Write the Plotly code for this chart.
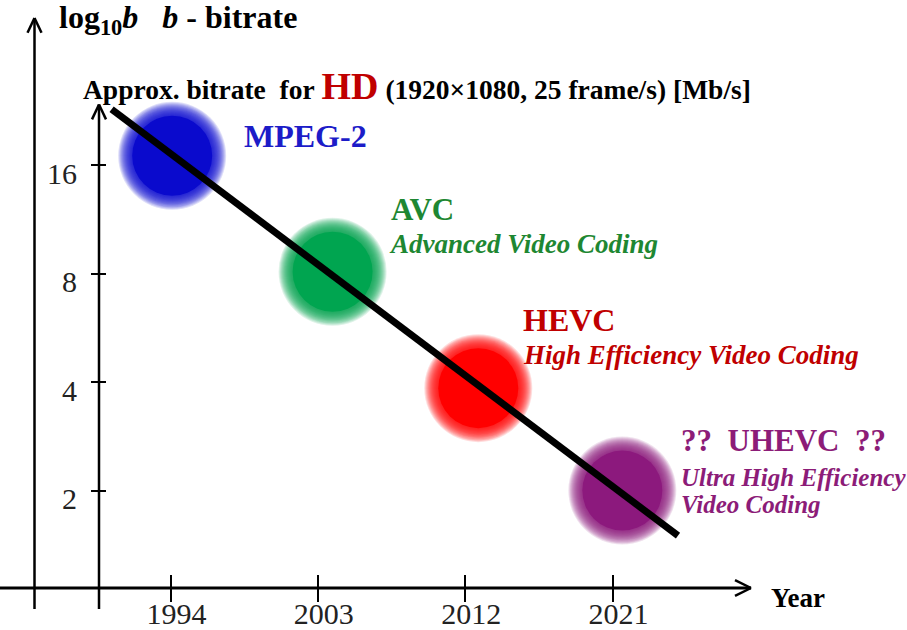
import plotly.graph_objects as go

# ---------------- data ----------------
codecs = ["MPEG-2", "AVC", "HEVC", "UHEVC"]
codec_years = [1994.1, 2003.9, 2012.8, 2021.6]
codec_bitrate = [17.0, 8.1, 3.85, 2.0]
blob_colors = ["rgb(10,10,205)", "rgb(0,165,80)", "rgb(255,0,0)", "rgb(140,25,125)"]

trend_years = [1990.4, 2025.0]
trend_bitrate = [22.9, 1.5]

year_ticks = [1994, 2003, 2012, 2021]
year_labels = ["1994", "2003", "2012", "2021"]
bitrate_ticks = [2, 4, 8, 16]
bitrate_labels = ["2", "4", "8", "16"]

# ---------------- layout geometry ----------------
W, H = 907, 630
ML, MB = 99, 39
PW, PH = W - ML, H - MB
x_range = [1989.63, 2038.99]
y_range_log = [0.0307, 1.6629]

SERIF = "Liberation Serif, Times New Roman, serif"


def px(x):
    return (x - ML) / PW


def py(y):
    return (PH - y) / PH


fig = go.Figure()

# soft blobs: many faint layers (large -> small) then a solid core
for k in range(14, 0, -1):
    fig.add_trace(go.Scatter(
        x=codec_years, y=codec_bitrate, mode="markers",
        marker=dict(size=80 + 2 * k, color=blob_colors, opacity=0.13, line=dict(width=0)),
        hoverinfo="skip", showlegend=False))
fig.add_trace(go.Scatter(
    x=codec_years, y=codec_bitrate, mode="markers", text=codecs,
    marker=dict(size=80, color=blob_colors, opacity=1, line=dict(width=0)),
    hoverinfo="text", showlegend=False))

# trend line
fig.add_trace(go.Scatter(
    x=trend_years, y=trend_bitrate, mode="lines",
    line=dict(color="black", width=7), hoverinfo="skip", showlegend=False))

# invisible trace on the overlay axes so they render
fig.add_trace(go.Scatter(x=[year_ticks[0]], y=[bitrate_ticks[0]], xaxis="x2", yaxis="y2",
                         mode="markers", marker=dict(opacity=0, size=1), hoverinfo="skip",
                         showlegend=False))

# ---------------- axis lines & arrows (decoration) ----------------
shapes = []
LW = 2.5


def seg(x0, y0, x1, y1, w=LW):
    shapes.append(dict(type="line", xref="paper", yref="paper",
                       x0=px(x0), y0=py(y0), x1=px(x1), y1=py(y1),
                       line=dict(color="black", width=w)))


# x axis
seg(0, 591, 751, 591, 3)
seg(751, 591, 735, 583)
seg(751, 591, 735, 599)
# inner y axis
seg(99, 612, 99, 105)
seg(99, 105, 92, 120)
seg(99, 105, 106, 120)
# outer y axis
seg(34.5, 612, 34.5, 18)
seg(34.5, 18, 27.5, 33)
seg(34.5, 18, 41.5, 33)

# ---------------- text annotations ----------------
ann = []


def text(x, y, s, size, color="black", anchor="left"):
    ann.append(dict(x=px(x), y=py(y), xref="paper", yref="paper", text=s,
                    showarrow=False, xanchor=anchor, yanchor="middle",
                    font=dict(family=SERIF, size=size, color=color)))


NB = "\u00a0"
text(57, 20, "<b>log<sub>10</sub><i>b</i>" + NB * 3 + "<i>b</i>" + NB + "-" + NB + "bitrate</b>", 32)
text(81, 86, "<b>Approx." + NB + "bitrate" + NB * 2 + "for" + NB +
     "<span style='font-size:38px;color:#c00000'>HD</span>" + NB +
     "(1920×1080," + NB + "25" + NB + "frame/s)" + NB + "[Mb/s]</b>", 27.5)

text(242, 137, "<b>MPEG-2</b>", 32, "rgb(28,28,200)")
text(389, 211, "<b>AVC</b>", 31, "rgb(30,135,50)")
text(387, 245, "<b><i>Advanced Video Coding</i></b>", 27, "rgb(30,135,50)")
text(521, 322, "<b>HEVC</b>", 32, "#c00000")
text(521, 357, "<b><i>High Efficiency Video Coding</i></b>", 27, "#c00000")
text(679, 443, "<b>??" + NB * 2 + "UHEVC" + NB * 2 + "??</b>", 31, "rgb(140,28,120)")
text(679, 480, "<b><i>Ultra High Efficiency</i></b>", 25, "rgb(140,28,120)")
text(679, 507, "<b><i>Video Coding</i></b>", 25, "rgb(140,28,120)")
text(769, 601, "<b>Year</b>", 27)

axis_common = dict(showgrid=False, zeroline=False, showline=False,
                   tickcolor="black", tickwidth=2)

fig.update_layout(
    width=W, height=H,
    margin=dict(l=ML, r=0, t=0, b=MB, pad=0),
    paper_bgcolor="white", plot_bgcolor="white",
    showlegend=False,
    xaxis=dict(range=x_range, tickvals=year_ticks, ticktext=year_labels,
               ticks="inside", ticklen=13, ticklabelshift=6, ticklabelstandoff=5,
               tickfont=dict(family=SERIF, size=30, color="#222"), **axis_common),
    xaxis2=dict(range=x_range, overlaying="x", anchor="y", side="bottom",
                tickvals=year_ticks, ticks="outside", ticklen=13,
                showticklabels=False, **axis_common),
    yaxis=dict(type="log", range=y_range_log, tickvals=bitrate_ticks, ticktext=bitrate_labels,
               ticks="outside", ticklen=7, ticklabelstandoff=8, ticklabelshift=8,
               tickfont=dict(family=SERIF, size=30, color="#222"), **axis_common),
    yaxis2=dict(type="log", range=y_range_log, overlaying="y", anchor="x", side="left",
                tickvals=bitrate_ticks, ticks="inside", ticklen=7,
                showticklabels=False, **axis_common),
    shapes=shapes,
    annotations=ann,
)

fig.write_html("out.html", config={"displayModeBar": False},
               post_script="document.body.style.margin='0';document.body.style.padding='0';")
